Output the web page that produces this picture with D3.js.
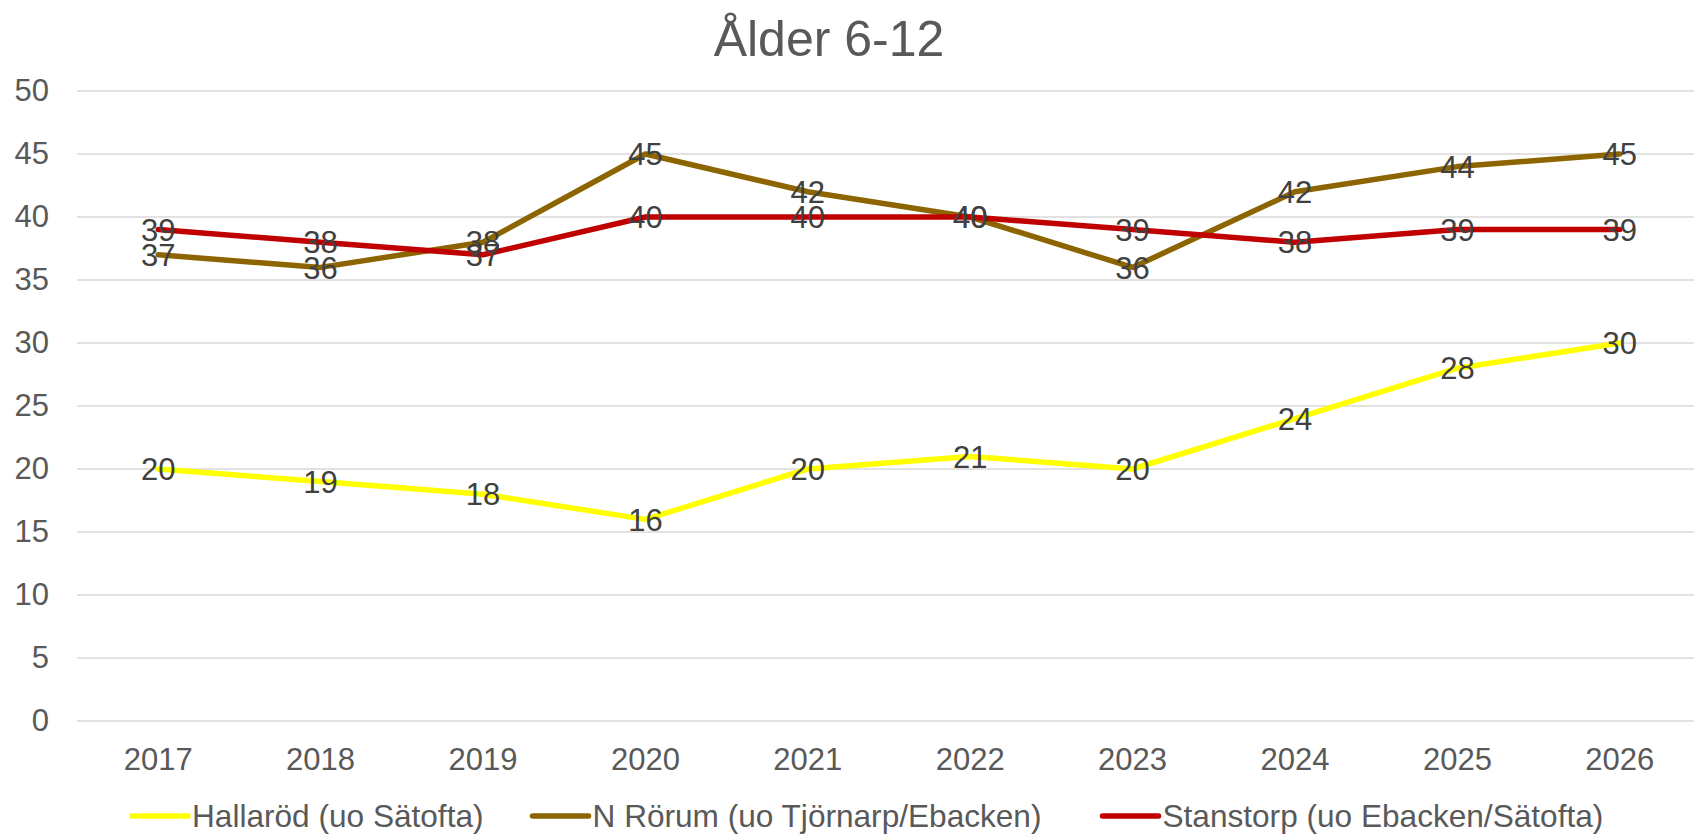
<!doctype html>
<html lang="sv">
<head>
<meta charset="UTF-8">
<title>Ålder 6-12</title>
<script src="https://d3js.org/d3.v7.min.js"></script>
<style>
    body { margin: 0; background: #fff; }
    text { font-family: Arial, "Liberation Sans", sans-serif; }
</style>
</head>
<body>
<div id="chart-area"></div>

<script>

const years = ['2017', '2018', '2019', '2020', '2021', '2022', '2023', '2024', '2025', '2026'];
const yTicks = [0, 5, 10, 15, 20, 25, 30, 35, 40, 45, 50];

const hallarod  = [20, 19, 18, 16, 20, 21, 20, 24, 28, 30];
const nRorum    = [37, 36, 38, 45, 42, 40, 36, 42, 44, 45];
const stanstorp = [39, 38, 37, 40, 40, 40, 39, 38, 39, 39];

const seriesNames  = ['Hallaröd (uo Sätofta)', 'N Rörum (uo Tjörnarp/Ebacken)', 'Stanstorp (uo Ebacken/Sätofta)'];
const seriesColors = ['#ffff00', '#8c6500', '#c00000'];

const series = [hallarod, nRorum, stanstorp].map((values, i) => ({
    name: seriesNames[i],
    color: seriesColors[i],
    values: values
}));

const W = 1694, H = 834;
const plot = { left: 77, right: 1701, top: 91, bottom: 721 };

const svg = d3.select('#chart-area')
    .append('svg')
    .attr('width', W)
    .attr('height', H);

const x = d3.scaleBand()
    .domain(years)
    .range([plot.left, plot.right]);

const y = d3.scaleLinear()
    .domain([0, 50])
    .range([plot.bottom, plot.top]);

// title
svg.append('text')
    .attr('x', 829)
    .attr('y', 56)
    .attr('text-anchor', 'middle')
    .attr('fill', '#595959')
    .style('font-size', '50px')
    .text('Ålder 6-12');

// gridlines
svg.append('g')
    .selectAll('line')
    .data(yTicks)
    .enter()
    .append('line')
        .attr('x1', plot.left)
        .attr('x2', plot.right)
        .attr('y1', d => y(d))
        .attr('y2', d => y(d))
        .attr('stroke', '#d9d9d9')
        .attr('stroke-width', 1.4);

// y axis
const yAxis = svg.append('g')
    .attr('transform', `translate(${plot.left},0)`)
    .call(d3.axisLeft(y).tickValues(yTicks).tickSize(0).tickPadding(28));
yAxis.select('.domain').remove();
yAxis.selectAll('text')
    .attr('fill', '#595959')
    .style('font-size', '31px')
    .style('font-family', 'Arial, "Liberation Sans", sans-serif');

// x axis
const xAxis = svg.append('g')
    .attr('transform', `translate(0,${plot.bottom})`)
    .call(d3.axisBottom(x).tickSize(0).tickPadding(27));
xAxis.select('.domain').remove();
xAxis.selectAll('text')
    .attr('fill', '#595959')
    .style('font-size', '31px')
    .style('font-family', 'Arial, "Liberation Sans", sans-serif');

const cx = d => x(d) + x.bandwidth() / 2;

const line = d3.line()
    .x((d, i) => cx(years[i]))
    .y(d => y(d));

svg.append('g')
    .selectAll('path')
    .data(series)
    .enter()
    .append('path')
        .attr('d', d => line(d.values))
        .attr('fill', 'none')
        .attr('stroke', d => d.color)
        .attr('stroke-width', 5.5)
        .attr('stroke-linejoin', 'round')
        .attr('stroke-linecap', 'round');

// data labels
series.forEach(s => {
    svg.append('g')
        .selectAll('text')
        .data(s.values)
        .enter()
        .append('text')
            .attr('x', (d, i) => cx(years[i]))
            .attr('y', d => y(d))
            .attr('dy', '0.36em')
            .attr('text-anchor', 'middle')
            .attr('fill', '#404040')
            .style('font-size', '31px')
            .text(d => d);
});

// legend
const legend = svg.append('g').attr('transform', 'translate(0,816)');
const legendGaps = [49, 61, 0];
let lx = 132;
series.forEach((s, i) => {
    legend.append('line')
        .attr('x1', lx)
        .attr('x2', lx + 56)
        .attr('y1', 0)
        .attr('y2', 0)
        .attr('stroke', s.color)
        .attr('stroke-width', 5.5)
        .attr('stroke-linecap', 'round');
    const t = legend.append('text')
        .attr('x', lx + 60)
        .attr('y', 0)
        .attr('dy', '0.36em')
        .attr('fill', '#595959')
        .style('font-size', '31.6px')
        .text(s.name);
    lx += 60 + t.node().getComputedTextLength() + legendGaps[i];
});

</script>

</body>
</html>
